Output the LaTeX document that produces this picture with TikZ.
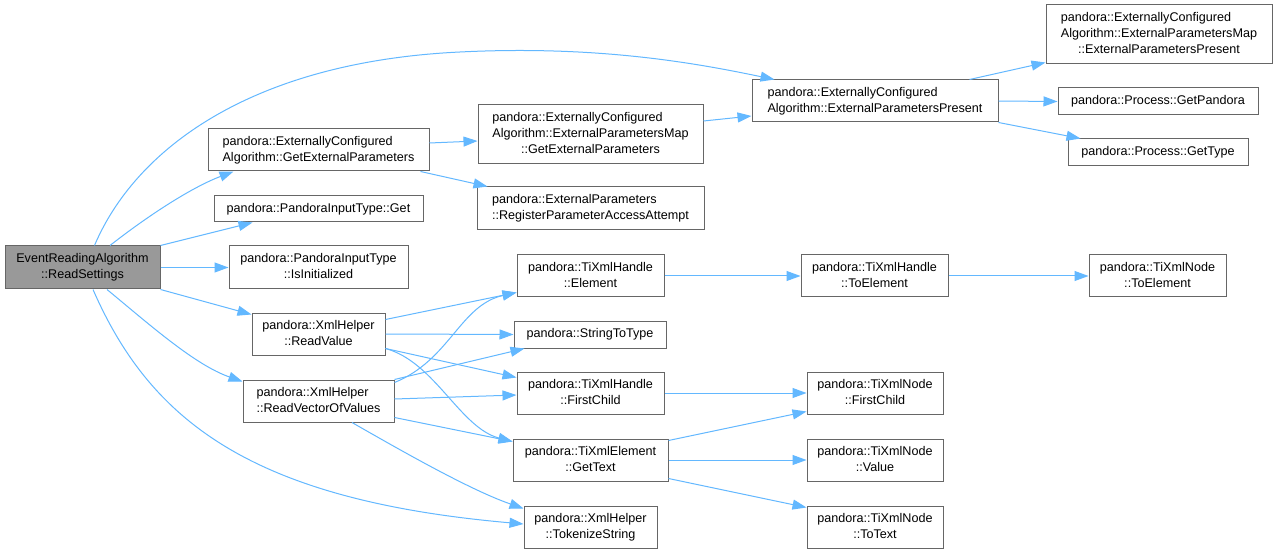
\documentclass[tikz,border=0pt]{standalone}
\usepackage{fontspec}
\setmainfont{Liberation Sans}
\usetikzlibrary{arrows.meta,calc}
\definecolor{edgec}{RGB}{99,184,255}
\definecolor{boxc}{RGB}{102,102,102}
\definecolor{mainfill}{RGB}{153,153,153}
\newcommand{\ltab}[1]{\begin{tabular}{@{}l@{}}#1\end{tabular}}
\newcommand{\ctab}[1]{\begin{tabular}{@{}c@{}}#1\end{tabular}}
\begin{document}
\begin{tikzpicture}[x=1pt,y=-1pt,
  box/.style={draw=boxc, line width=1pt, fill=white, inner sep=0pt, text=black,
    font=\fontsize{12.6}{16}\selectfont},
  mainbox/.style={box, fill=mainfill},
  edge/.style={draw=edgec, line width=1pt, -{Triangle[length=14pt,width=10pt,fill=edgec]}}]
\fill[white] (0,0) rectangle (1274,553);
\useasboundingbox (0,0) rectangle (1274,553);

% column 1
\node[mainbox, minimum width=155, minimum height=43] (main) at (82.5,267.5) {\ctab{EventReadingAlgorithm\\::ReadSettings}};
% column 2
\node[box, minimum width=221, minimum height=42] (gep) at (318.5,150) {\ltab{pandora::ExternallyConfigured\\Algorithm::GetExternalParameters}};
\node[box, minimum width=209, minimum height=26] (get) at (318.5,209) {pandora::PandoraInputType::Get};
\node[box, minimum width=179, minimum height=43] (isinit) at (318.5,267.5) {\ctab{pandora::PandoraInputType\\::IsInitialized}};
\node[box, minimum width=133, minimum height=42] (readval) at (318.5,334) {\ctab{pandora::XmlHelper\\::ReadValue}};
\node[box, minimum width=151, minimum height=42] (readvec) at (318.5,401) {\ltab{pandora::XmlHelper\\::ReadVectorOfValues}};
% column 3
\node[box, minimum width=225, minimum height=59] (mapgep) at (590.5,134.5) {\ltab{pandora::ExternallyConfigured\\Algorithm::ExternalParametersMap\\\multicolumn{1}{@{}c@{}}{::GetExternalParameters}}};
\node[box, minimum width=227, minimum height=43] (reg) at (590.5,208.5) {\ltab{pandora::ExternalParameters\\::RegisterParameterAccessAttempt}};
\node[box, minimum width=147, minimum height=42] (elem) at (590.5,276) {\ctab{pandora::TiXmlHandle\\::Element}};
\node[box, minimum width=152, minimum height=27] (s2t) at (590,334.5) {pandora::StringToType};
\node[box, minimum width=147, minimum height=42] (hfc) at (590.5,393) {\ctab{pandora::TiXmlHandle\\::FirstChild}};
\node[box, minimum width=155, minimum height=42] (gettext) at (590.5,460) {\ctab{pandora::TiXmlElement\\::GetText}};
\node[box, minimum width=133, minimum height=42] (tok) at (590.5,527) {\ctab{pandora::XmlHelper\\::TokenizeString}};
% column 4
\node[box, minimum width=246, minimum height=42] (epp) at (875,101) {\ltab{pandora::ExternallyConfigured\\Algorithm::ExternalParametersPresent}};
\node[box, minimum width=147, minimum height=42] (htoe) at (874.5,276) {\ctab{pandora::TiXmlHandle\\::ToElement}};
\node[box, minimum width=136, minimum height=42] (nfc) at (875,393) {\ctab{pandora::TiXmlNode\\::FirstChild}};
\node[box, minimum width=136, minimum height=42] (nval) at (875,460) {\ctab{pandora::TiXmlNode\\::Value}};
\node[box, minimum width=136, minimum height=42] (ntotext) at (875,527) {\ctab{pandora::TiXmlNode\\::ToText}};
% column 5
\node[box, minimum width=226, minimum height=59] (mapepp) at (1159,34.5) {\ltab{pandora::ExternallyConfigured\\Algorithm::ExternalParametersMap\\\multicolumn{1}{@{}c@{}}{::ExternalParametersPresent}}};
\node[box, minimum width=200, minimum height=27] (getpandora) at (1158,101.5) {pandora::Process::GetPandora};
\node[box, minimum width=180, minimum height=27] (gettype) at (1158,152.5) {pandora::Process::GetType};
\node[box, minimum width=137, minimum height=42] (ntoe) at (1157.5,276) {\ctab{pandora::TiXmlNode\\::ToElement}};

% edges from main
\draw[edge] ($(main.north)+(12,0)$) .. controls (135,150) and (250,62) .. (460,52) .. controls (600,45) and (700,64) .. ($(epp.north west)+(23,0)$);
\draw[edge] ($(main.north)+(27.5,0)$) .. controls (145,218) and (190,188) .. ($(gep.south west)+(26,0)$);
\draw[edge] (main.north east) -- ($(get.south west)+(39,0)$);
\draw[edge] (main.east) -- (isinit.west);
\draw[edge] (main.south east) -- ($(readval.north west)+(0,2)$);
\draw[edge] ($(main.south)+(24.5,0)$) .. controls (150,325) and (195,365) .. ($(readvec.north west)+(0,2)$);
\draw[edge] ($(main.south)+(10.5,0)$) .. controls (150,420) and (250,500) .. ($(tok.west)+(0,-3)$);
% gep
\draw[edge] ($(gep.east)+(0,-7)$) -- ($(mapgep.west)+(0,6.5)$);
\draw[edge] ($(gep.south east)+(-9,0)$) -- ($(reg.north west)+(11,0)$);
\draw[edge] ($(mapgep.east)+(0,-13.5)$) -- ($(epp.west)+(0,15)$);
% epp
\draw[edge] ($(epp.north east)+(-29,0)$) -- ($(mapepp.south west)+(0,-2)$);
\draw[edge] (epp.east) -- (getpandora.west);
\draw[edge] (epp.south east) -- ($(gettype.north west)+(13,0)$);
% readval
\draw[edge] ($(readval.north east)+(0,7)$) -- ($(elem.south west)+(0,-5)$);
\draw[edge] (readval.east) -- (s2t.west);
\draw[edge] ($(readval.south east)+(0,-7)$) -- ($(hfc.north west)+(0,6)$);
\draw[edge] ($(readval.south east)+(0,-7)$) .. controls (435,362) and (460,428) .. ($(gettext.north west)+(0,3)$);
% readvec
\draw[edge] ($(readvec.north east)+(0,3)$) .. controls (450,360) and (460,305) .. ($(elem.south west)+(0,-5)$);
\draw[edge] (readvec.north east) -- ($(s2t.south west)+(11,0)$);
\draw[edge] ($(readvec.east)+(0,-2)$) -- ($(hfc.west)+(0,2)$);
\draw[edge] ($(readvec.south east)+(0,-5)$) -- ($(gettext.north west)+(0,3)$);
\draw[edge] ($(readvec.south)+(33.5,0)$) .. controls (400,450) and (470,490) .. ($(tok.north west)+(0,3)$);
% TiXml chain
\draw[edge] (elem.east) -- (htoe.west);
\draw[edge] (htoe.east) -- (ntoe.west);
\draw[edge] (hfc.east) -- (nfc.west);
\draw[edge] ($(gettext.north east)+(0,2)$) -- ($(nfc.south west)+(0,-3)$);
\draw[edge] (gettext.east) -- (nval.west);
\draw[edge] ($(gettext.south east)+(0,-3)$) -- ($(ntotext.north west)+(0,2)$);
\end{tikzpicture}
\end{document}
